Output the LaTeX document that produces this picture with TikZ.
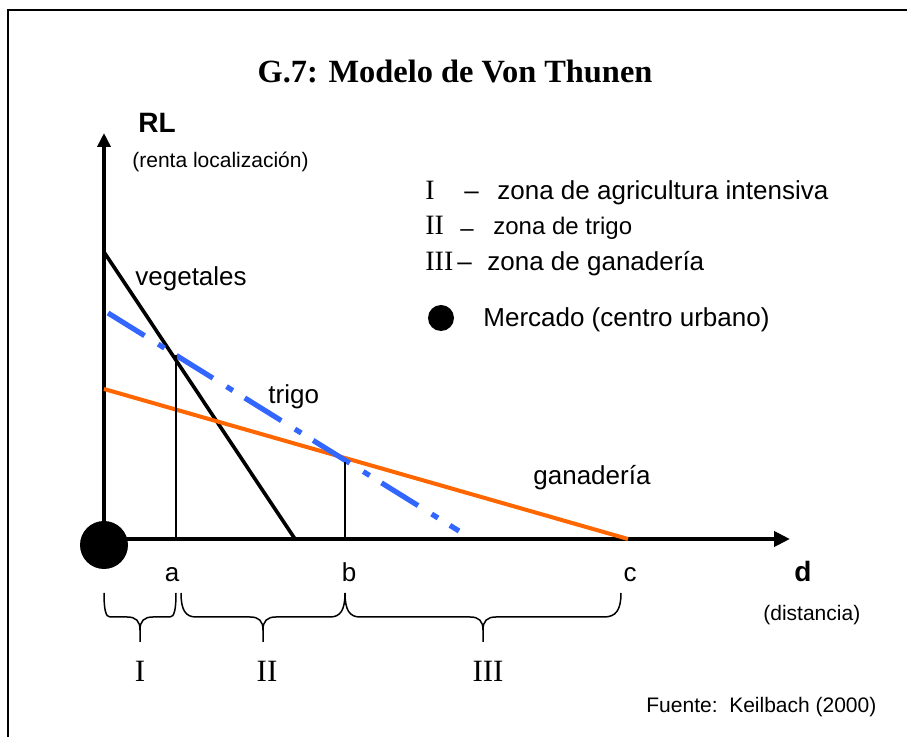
\documentclass[tikz,border=0pt]{standalone}
\usepackage{fontspec}
\setmainfont{Liberation Sans}
\newfontfamily\tnr{Liberation Serif}
\usetikzlibrary{arrows.meta}
\definecolor{trigoblue}{RGB}{51,102,255}
\definecolor{ganorange}{RGB}{255,102,0}
\newcommand{\zonebrace}[5]{%
  \draw[bracestyle] (#1,593) .. controls (#1,610) and (#1+#4*0.3,617) .. (#1+#4,617)
    -- (#2-13,617) .. controls (#2-4,617) and (#2,621) .. (#2,630) -- (#2,642)
    (#2,630) .. controls (#2,621) and (#2+4,617) .. (#2+13,617)
    -- (#3-#5,617) .. controls (#3-#5*0.3,617) and (#3,610) .. (#3,593);}
\begin{document}
\begin{tikzpicture}[x=0.5pt,y=-0.5pt,
  axisline/.style={line width=2.3pt},
  vegline/.style={line width=1.8pt,black},
  trigoline/.style={line width=2.6pt,trigoblue,dash pattern=on 21.5pt off 8pt on 3.75pt off 7pt},
  ganline/.style={line width=2pt,ganorange},
  thinline/.style={line width=0.7pt},
  bracestyle/.style={line width=0.75pt},
  lbl/.style={inner sep=0pt,font=\fontsize{13}{15}\selectfont},
  small/.style={inner sep=0pt,font=\fontsize{10.5}{12}\selectfont},
  roman/.style={inner sep=0pt,font=\tnr\fontsize{15.5}{17}\selectfont},
  legroman/.style={inner sep=0pt,font=\tnr\fontsize{14}{16}\selectfont}]
\useasboundingbox (0,0) rectangle (907,737);
% frame
\draw[line width=1pt] (8,737) -- (8,10) -- (907,10);
% title
\node[inner sep=0pt,anchor=base,font=\tnr\bfseries\fontsize{16.2}{19}\selectfont] (title) at (455,83) {G.7: Modelo de Von Thunen};
% axes
\coordinate (O) at (104,539);
\coordinate (Ytop) at (104,133);
\coordinate (Xend) at (790,539);
\draw[axisline,-{Triangle[length=7pt,width=6.5pt]}] (104,560) -- (Ytop);
\draw[axisline,-{Triangle[length=8pt,width=7.5pt]}] (O) -- (Xend);
\node[circle,fill=black,minimum size=24pt,inner sep=0pt] (market) at (104,545) {};
% curves
\coordinate (vegA) at (104,252);
\coordinate (vegB) at (295,539);
\coordinate (triA) at (108,313);
\coordinate (triB) at (459,531);
\coordinate (ganA) at (104,389);
\coordinate (ganB) at (628,539);
\draw[vegline] (vegA) -- (vegB);
\draw[ganline] (ganA) -- (ganB);
\draw[trigoline] (triA) -- (triB);
% verticals
\coordinate (aTop) at (176,355);
\coordinate (aBot) at (176,539);
\coordinate (bTop) at (345,462);
\coordinate (bBot) at (345,539);
\draw[thinline] (aBot) -- (aTop);
\draw[thinline] (bBot) -- (bTop);
% axis labels
\node[inner sep=0pt,anchor=base west,font=\bfseries\fontsize{14}{16}\selectfont] (RL) at (138,133) {RL};
\node[small,anchor=base west] (rentalbl) at (132,168) {(renta localización)};
\node[inner sep=0pt,anchor=base,font=\bfseries\fontsize{14}{16}\selectfont] (dlbl) at (803,582) {d};
\node[small,anchor=base west] (distlbl) at (763,621) {(distancia)};
% curve labels
\node[lbl,anchor=base west] (veglbl) at (135,286) {vegetales};
\node[lbl,anchor=base west] (trilbl) at (268,404) {trigo};
\node[lbl,anchor=base west] (ganlbl) at (533,485) {ganadería};
% x labels
\node[lbl,anchor=base] (alab) at (172,582) {a};
\node[lbl,anchor=base] (blab) at (349,582) {b};
\node[lbl,anchor=base] (clab) at (630,582) {c};
% legend
\node[legroman,anchor=base west] (l1r) at (425,200) {I};
\node[lbl,anchor=base west] (l1d) at (464,200) {–};
\node[lbl,anchor=base west] (l1t) at (497,200) {zona de agricultura intensiva};
\node[legroman,anchor=base west] (l2r) at (425,235) {II};
\node[inner sep=0pt,anchor=base west,font=\fontsize{12}{14}\selectfont] (l2d) at (460,237) {–};
\node[inner sep=0pt,anchor=base west,font=\fontsize{12}{14}\selectfont] (l2t) at (493,235) {zona de trigo};
\node[legroman,anchor=base west] (l3r) at (425,271) {III};
\node[lbl,anchor=base west] (l3d) at (457,271) {–};
\node[lbl,anchor=base west] (l3t) at (487,271) {zona de ganadería};
\node[circle,fill=black,minimum size=13pt,inner sep=0pt] (legdot) at (441,318) {};
\node[lbl,anchor=base west] (legtxt) at (483,327) {Mercado (centro urbano)};
% braces
\zonebrace{104}{140}{176}{6}{6}
\zonebrace{181}{263}{345}{15}{15}
\zonebrace{345}{483}{621}{15}{17}
\node[roman,anchor=base] (z1) at (140,682) {I};
\node[roman,anchor=base] (z2) at (267,682) {II};
\node[roman,anchor=base] (z3) at (488,682) {III};
% source
\node[small,anchor=base west] (src) at (646,713) {Fuente:\ \ Keilbach (2000)};
\end{tikzpicture}
\end{document}
